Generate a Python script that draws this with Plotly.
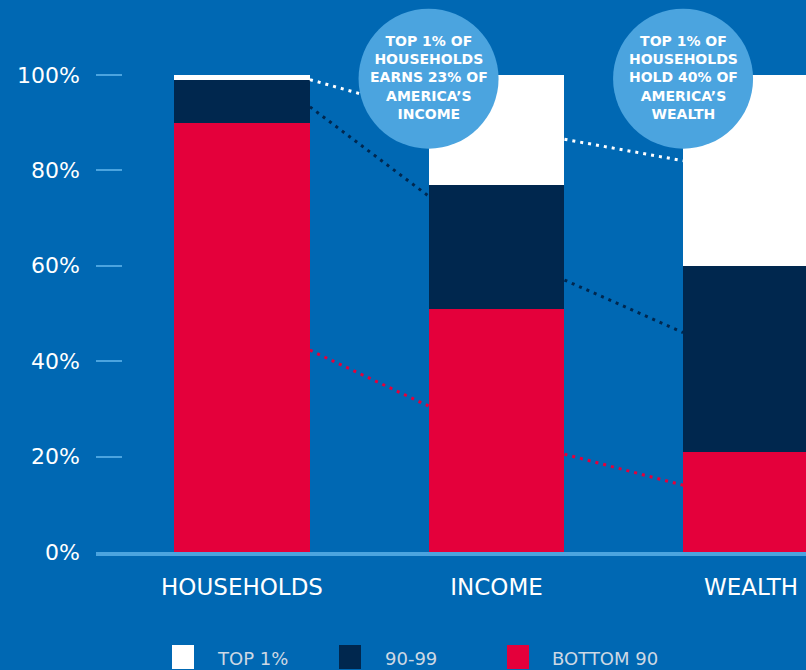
import plotly.graph_objects as go

# ---------------- data ----------------
categories = ["HOUSEHOLDS", "INCOME", "WEALTH"]
bottom_90 = [90, 51, 21]
p90_99 = [9, 26, 39]
top_1 = [1, 23, 40]
y_ticks = [0, 20, 40, 60, 80, 100]
y_tick_labels = [f"{v}%" for v in y_ticks]

legend_names = ["TOP 1%", "90-99", "BOTTOM 90"]

# dotted connectors: value at right edge of bar i -> value at left edge of bar i+1
conn_white_start = [99, 86.5]
conn_white_end = [92, 82]
conn_navy_start = [93.3, 57]
conn_navy_end = [74.6, 46]
conn_red_start = [42.3, 20.5]
conn_red_end = [30.6, 14]

callouts = [
    "TOP 1% OF<br>HOUSEHOLDS<br>EARNS 23% OF<br>AMERICA’S<br>INCOME",
    "TOP 1% OF<br>HOUSEHOLDS<br>HOLD 40% OF<br>AMERICA’S<br>WEALTH",
]

# ---------------- style ----------------
BG = "#0068b3"
RED = "#e4003b"
NAVY = "#00274e"
WHITE = "#ffffff"
LIGHT = "#4ba4df"
LEGEND_TXT = "#cdd8e4"
FONT = "DejaVu Sans"

W, H = 806, 670
ML, MR, MT, MB = 96, 0, 51, 118
BAR_W = 0.534
X_RANGE = [-0.5737, 2.216]
Y_RANGE = [0, 105]

PW = W - ML - MR
PH = H - MT - MB


def data_to_paper_x(x):
    return (x - X_RANGE[0]) / (X_RANGE[1] - X_RANGE[0])


def data_to_paper_y(y):
    return (y - Y_RANGE[0]) / (Y_RANGE[1] - Y_RANGE[0])


def px_to_paper_x(px):
    return (px - ML) / PW


def px_to_paper_y(py):
    return (H - MB - py) / PH


xs = list(range(len(categories)))

fig = go.Figure()

for name, vals, col in [("BOTTOM 90", bottom_90, RED), ("90-99", p90_99, NAVY), ("TOP 1%", top_1, WHITE)]:
    fig.add_trace(go.Bar(x=xs, y=vals, name=name, width=BAR_W,
                         marker=dict(color=col, line=dict(width=0)),
                         showlegend=False, hoverinfo="skip"))

# dotted connectors
for starts, ends, col in [(conn_white_start, conn_white_end, WHITE),
                          (conn_navy_start, conn_navy_end, NAVY),
                          (conn_red_start, conn_red_end, RED)]:
    for i in range(len(starts)):
        fig.add_trace(go.Scatter(
            x=[xs[i] + BAR_W / 2, xs[i + 1] - BAR_W / 2],
            y=[starts[i], ends[i]],
            mode="lines", line=dict(color=col, width=3, dash="3px,5px"),
            showlegend=False, hoverinfo="skip"))

# callout circles (paper-referenced so they are not clipped by the plot area)
shapes = []
annotations = []
CIRCLE_Y = 99.2
for i, txt in enumerate(callouts):
    cx = data_to_paper_x(xs[i + 1] - BAR_W / 2)
    cy = data_to_paper_y(CIRCLE_Y)
    shapes.append(dict(type="circle", xref="paper", yref="paper", xsizemode="pixel", ysizemode="pixel",
                       xanchor=cx, yanchor=cy, x0=-70, x1=70, y0=-70, y1=70,
                       fillcolor=LIGHT, line=dict(width=0), layer="above"))
    annotations.append(dict(x=cx, y=cy, xref="paper", yref="paper", text="<b>" + txt + "</b>",
                            showarrow=False, xanchor="center", yanchor="middle", yshift=1,
                            font=dict(family=FONT, size=14, color=WHITE), align="center"))

# custom legend
legend_colors = [WHITE, NAVY, RED]
sq_x = [172, 339, 507]
txt_x = [215, 383, 550]
for name, col, sx, tx in zip(legend_names, legend_colors, sq_x, txt_x):
    shapes.append(dict(type="rect", xref="paper", yref="paper",
                       x0=px_to_paper_x(sx), x1=px_to_paper_x(sx + 22),
                       y0=px_to_paper_y(669), y1=px_to_paper_y(645),
                       fillcolor=col, line=dict(width=0)))
    annotations.append(dict(x=px_to_paper_x(tx), y=px_to_paper_y(658), xref="paper", yref="paper",
                            text=name, showarrow=False, xanchor="left", yanchor="middle",
                            font=dict(family=FONT, size=18, color=LEGEND_TXT)))

fig.update_layout(
    width=W, height=H, autosize=False,
    margin=dict(l=ML, r=MR, t=MT, b=MB, pad=0),
    paper_bgcolor=BG, plot_bgcolor=BG,
    barmode="stack", bargap=0,
    showlegend=False,
    shapes=shapes, annotations=annotations,
    font=dict(family=FONT, color=WHITE),
    xaxis=dict(range=X_RANGE, tickmode="array", tickvals=xs, ticktext=categories,
               showgrid=False, zeroline=False, showline=True, linecolor=LIGHT, linewidth=4,
               ticks="", tickfont=dict(family=FONT, size=23, color=WHITE),
               ticklabelstandoff=11, ticklabeloverflow="allow", fixedrange=True),
    yaxis=dict(range=Y_RANGE, tickmode="array", tickvals=y_ticks, ticktext=y_tick_labels,
               showgrid=False, zeroline=False, showline=False,
               ticks="inside", ticklen=26, tickwidth=2, tickcolor=LIGHT,
               tickfont=dict(family=FONT, size=22, color=WHITE),
               ticklabelstandoff=15, fixedrange=True),
)

fig.write_html("out.html", config={"displayModeBar": False})
